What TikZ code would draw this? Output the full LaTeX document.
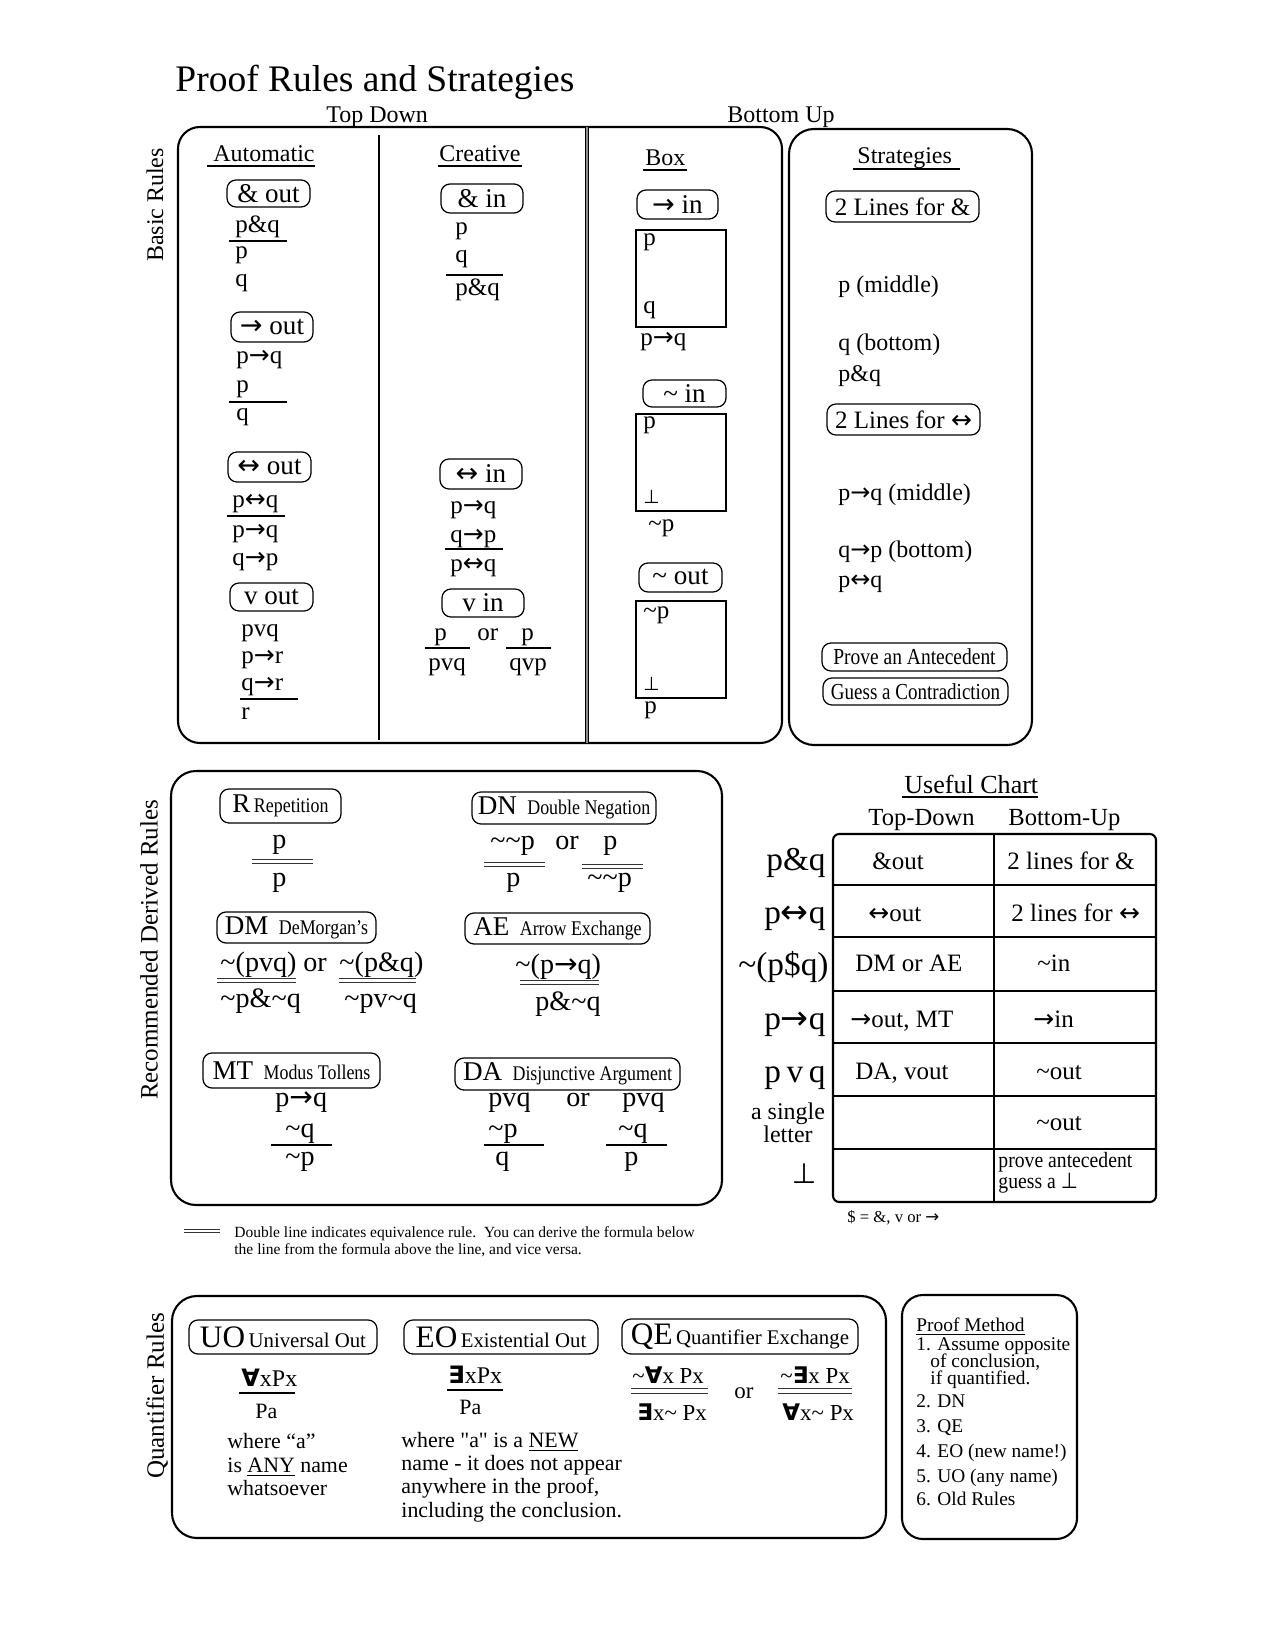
\documentclass[tikz,border=0pt]{standalone}
\usepackage{fontspec}
\setmainfont{Liberation Serif}
\newfontfamily\symf{DejaVu Sans}
\newfontfamily\qf{Liberation Serif}[Ligatures=TeXOff]
\usepackage{graphicx}
\newcommand\fs[1]{\fontsize{#1}{#1}\selectfont}
\newcommand\cnd[2]{\scalebox{#1}[1]{#2}}
\newcommand\pxu{0.48pt}
\newcommand\Bot{{\symf ⊥}}
\newcommand\All{{\symf\bfseries ∀}}
\newcommand\Exi{{\symf\bfseries ∃}}
\newcommand\ra{{\symf →}}
\newcommand\lra{{\symf ↔}}
\newcommand\dq{{\qf "}}
\newcommand\tagbox[6]{\node[tagb, minimum width={(#4-#2)*\pxu}, minimum height={(#5-#3)*\pxu}] (#1) at ({(#2+#4)/2},{(#3+#5)/2}) {#6};}
\tikzset{
  tagb/.style={draw, rounded corners=4.3pt, inner sep=0pt, line width=0.6pt},
  fm/.style={anchor=base west, inner sep=0pt, font=\fs{12}},
  fb/.style={anchor=base west, inner sep=0pt, font=\fs{13.5}},
  hd/.style={anchor=base west, inner sep=0pt, font=\fs{11.5}},
  boxl/.style={line width=1pt},
  rl/.style={line width=0.8pt},
  ul/.style={line width=0.6pt},
  dl/.style={line width=0.45pt, black!80},
  frame/.style={line width=0.9pt},
}
\begin{document}
\begin{tikzpicture}[x=0.48pt,y=-0.48pt]
\useasboundingbox (0,0) rectangle (1275,1650);
% ---------- title ----------
\node[fm, font=\fs{18}] (title) at (175,92) {Proof Rules and Strategies};
\node[hd] (topdown) at (326,123) {Top Down};
\node[hd] (bottomup) at (727,123) {Bottom Up};
% ---------- basic rules frames ----------
\draw[boxl, rounded corners=10.5pt] (178,127) rectangle (782,743);
\draw[boxl] (379,135) -- (379,740);
\draw[line width=0.45pt, double=black!45, double distance=1.1pt] (587,127) -- (587,743);
\draw[boxl, rounded corners=12pt] (789,129) rectangle (1032,745);
\node[rotate=90, font=\fs{11.5}] (basic) at (155,205) {Basic Rules};
% headers
\node[hd] (hauto) at (213,162) {Automatic};
\draw[ul] (207,166) -- (315,166);
\node[hd] (hcre) at (439,162) {Creative};
\draw[ul] (438,166) -- (522,166);
\node[hd] (hbox) at (645,166) {Box};
\draw[ul] (643,170) -- (687,170);
\node[hd] (hstr) at (857,164) {Strategies};
\draw[ul] (853,169) -- (960,169);
% ---------- automatic ----------
\tagbox{andout}{227}{180}{310}{207}{\fs{13}\& out}
\node[fm] (a1) at (235,233) {p\&q};
\draw[rl] (229,241) -- (287,241);
\node[fm] (a2) at (235,259) {p};
\node[fm] (a3) at (235,287) {q};
\tagbox{impout}{231}{312}{313}{342}{\fs{13}\ra\ out}
\node[fm] (b1) at (236,364) {p\ra q};
\node[fm] (b2) at (236,393) {p};
\draw[rl] (229,402) -- (287,402);
\node[fm] (b3) at (236,421) {q};
\tagbox{bicout}{228}{452}{311}{482}{\fs{13}\lra\ out}
\node[fm] (c1) at (232,507) {p\lra q};
\draw[rl] (227,516) -- (285,516);
\node[fm] (c2) at (232,537) {p\ra q};
\node[fm] (c3) at (232,565) {q\ra p};
\tagbox{orout}{230}{583}{313}{611}{\fs{13}v out}
\node[fm] (d1) at (241,636) {pvq};
\node[fm] (d2) at (241,663) {p\ra r};
\node[fm] (d3) at (241,690) {q\ra r};
\draw[rl] (240,699) -- (298,699);
\node[fm] (d4) at (241,719) {r};
% ---------- creative ----------
\tagbox{andin}{441}{184}{523}{213}{\fs{13}\& in}
\node[fm] (e1) at (455,235) {p};
\node[fm] (e2) at (455,263) {q};
\draw[rl] (446,275) -- (503,275);
\node[fm] (e3) at (455,296) {p\&q};
\tagbox{bicin}{440}{459}{522}{489}{\fs{13}\lra\ in}
\node[fm] (g1) at (450,513) {p\ra q};
\node[fm] (g2) at (450,542) {q\ra p};
\draw[rl] (445,549) -- (503,549);
\node[fm] (g3) at (450,571) {p\lra q};
\tagbox{orin}{442}{589}{524}{617}{\fs{13}v in}
\node[fm] (h1) at (434,640) {p};
\node[fm] (h2) at (477,640) {or};
\node[fm] (h3) at (521,640) {p};
\draw[rl] (425,648) -- (470,648);
\draw[rl] (506,648) -- (551,648);
\node[fm] (h4) at (428,670) {pvq};
\node[fm] (h5) at (509,670) {qvp};
% ---------- box ----------
\tagbox{impin}{637}{190}{718}{219}{\fs{13}\ra\ in}
\draw[frame] (636,230) rectangle (726,327);
\node[fm] (i1) at (643,246) {p};
\node[fm] (i2) at (643,314) {q};
\node[fm] (i3) at (640,346) {p\ra q};
\tagbox{negin}{643}{380}{726}{407}{\fs{13}\textasciitilde{} in}
\draw[frame] (636,414) rectangle (726,511);
\node[fm] (j1) at (643,429) {p};
\node[fm, font=\fs{9}] (j2) at (643,503) {\Bot};
\node[fm] (j3) at (648,531) {\textasciitilde p};
\tagbox{negout}{639}{563}{722}{592}{\fs{13}\textasciitilde{} out}
\draw[frame] (636,601) rectangle (726,698);
\node[fm] (k1) at (643,618) {\textasciitilde p};
\node[fm, font=\fs{9}] (k2) at (643,690) {\Bot};
\node[fm] (k3) at (644,713) {p};
% ---------- strategies ----------
\tagbox{twoand}{826}{191}{979}{222}{\fs{12}2 Lines for \&}
\node[fm, font=\fs{11.5}] (s1) at (838,293) {p (middle)};
\node[fm, font=\fs{11.5}] (s2) at (838,351) {q (bottom)};
\node[fm, font=\fs{11.5}] (s3) at (838,382) {p\&q};
\tagbox{twobic}{827}{404}{980}{435}{\fs{12}2 Lines for \lra}
\node[fm, font=\fs{11.5}] (s4) at (838,500) {p\ra q (middle)};
\node[fm, font=\fs{11.5}] (s5) at (838,557) {q\ra p (bottom)};
\node[fm, font=\fs{11.5}] (s6) at (838,587) {p\lra q};
\tagbox{prove}{822}{643}{1007}{671}{\fs{11}\cnd{0.85}{Prove an Antecedent}}
\tagbox{guess}{823}{678}{1008}{705}{\fs{11}\cnd{0.83}{Guess a Contradiction}}
% ---------- recommended derived rules ----------
\draw[boxl, rounded corners=12pt] (171,771) rectangle (722,1205);
\node[rotate=90, font=\fs{12}] (recom) at (149,950) {Recommended Derived Rules};
\tagbox{rep}{220}{789}{341}{823}{{\fs{13}R}\,{\fs{10}\cnd{0.86}{Repetition}}}
\node[fb] (r1) at (272,848) {p};
\draw[dl] (252,859) -- (313,859); \draw[dl] (252,863) -- (313,863);
\node[fb] (r2) at (272,886) {p};
\tagbox{dn}{472}{792}{656}{824}{{\fs{13}DN}\enspace{\fs{10}\cnd{0.86}{Double Negation}}}
\node[fb] (n1) at (490,849) {\textasciitilde\textasciitilde p};
\node[fb] (n2) at (555,849) {or};
\node[fb] (n3) at (603,849) {p};
\draw[dl] (484,862) -- (545,862); \draw[dl] (484,866) -- (545,866);
\draw[dl] (582,864) -- (643,864); \draw[dl] (582,868) -- (643,868);
\node[fb] (n4) at (506,886) {p};
\node[fb] (n5) at (587,886) {\textasciitilde\textasciitilde p};
\tagbox{dm}{217}{912}{376}{943}{{\fs{13}DM}\enspace{\fs{10}\cnd{0.86}{DeMorgan’s}}}
\node[fb] (m1) at (220,971) {\textasciitilde(pvq)};
\node[fb] (m2) at (303,971) {or};
\node[fb] (m3) at (339,971) {\textasciitilde(p\&q)};
\draw[dl] (217,978) -- (296,978); \draw[dl] (217,982) -- (296,982);
\draw[dl] (339,978) -- (416,978); \draw[dl] (339,982) -- (416,982);
\node[fb] (m4) at (220,1007) {\textasciitilde p\&\textasciitilde q};
\node[fb] (m5) at (344,1007) {\textasciitilde pv\textasciitilde q};
\tagbox{ae}{465}{913}{650}{944}{{\fs{13}AE}\enspace{\fs{10}\cnd{0.86}{Arrow Exchange}}}
\node[fb] (x1) at (515,973) {\textasciitilde(p\ra q)};
\draw[dl] (520,980) -- (599,980); \draw[dl] (520,984) -- (599,984);
\node[fb] (x2) at (535,1010) {p\&\textasciitilde q};
\tagbox{mt}{203}{1053}{380}{1088}{{\fs{13}MT}\enspace{\fs{10}\cnd{0.86}{Modus Tollens}}}
\node[fb] (t1) at (275,1106) {p\ra q};
\node[fb] (t2) at (285,1137) {\textasciitilde q};
\draw[rl] (271,1145) -- (332,1145);
\node[fb] (t3) at (285,1165) {\textasciitilde p};
\tagbox{da}{455}{1058}{680}{1090}{{\fs{13}DA}\enspace{\fs{10}\cnd{0.86}{Disjunctive Argument}}}
\node[fb] (u1) at (488,1106) {pvq};
\node[fb] (u2) at (566,1106) {or};
\node[fb] (u3) at (622,1106) {pvq};
\node[fb] (u4) at (488,1137) {\textasciitilde p};
\draw[rl] (484,1145) -- (544,1145);
\node[fb] (u5) at (618,1137) {\textasciitilde q};
\draw[rl] (606,1145) -- (667,1145);
\node[fb] (u6) at (495,1165) {q};
\node[fb] (u7) at (624,1165) {p};
% footnote
\draw[dl] (184,1229) -- (220,1229); \draw[dl] (184,1232) -- (220,1232);
\node[fm, font=\fs{7.45}] (fn1) at (234,1237) {Double line indicates equivalence rule.\ \ You can derive the formula below};
\node[fm, font=\fs{7.45}] (fn2) at (234,1254) {the line from the formula above the line, and vice versa.};
% ---------- useful chart ----------
\node[fm, font=\fs{12.5}] (uc) at (904,793) {Useful Chart};
\draw[ul] (902,797) -- (1038,797);
\node[fm, font=\fs{11.8}] (ctd) at (868,825) {Top-Down};
\node[fm, font=\fs{11.8}] (cbu) at (1008,825) {Bottom-Up};
\draw[line width=1pt, rounded corners=3pt] (833,834) rectangle (1156,1202);
\draw[line width=1pt] (994,834) -- (994,1202);
\foreach \yy in {885,937,991,1043,1096,1149} \draw[line width=1pt] (833,\yy) -- (1156,\yy);
\tikzset{rowl/.style={anchor=base east, inner sep=0pt, font=\fs{16}}, cell/.style={anchor=base west, inner sep=0pt, font=\fs{12}}}
\node[rowl] (l1) at (826,870) {p\&q};
\node[rowl] (l2) at (826,923) {p\lra q};
\node[rowl] (l3) at (829,975) {\textasciitilde(p\$q)};
\node[rowl] (l4) at (826,1029) {p\ra q};
\node[rowl] (l5) at (826,1082) {p\,v\,q};
\node[anchor=base, inner sep=0pt, font=\fs{11.5}] (l6a) at (788,1119) {a single};
\node[anchor=base, inner sep=0pt, font=\fs{11.5}] (l6b) at (788,1142) {letter};
\node[anchor=base, inner sep=0pt, font=\fs{13.5}] (l7) at (804,1183) {\Bot};
\node[cell] (c11) at (872,869) {\&out};
\node[cell] (c12) at (1007,869) {2 lines for \&};
\node[cell] (c21) at (868,921) {\lra out};
\node[cell] (c22) at (1011,921) {2 lines for \lra};
\node[cell] (c31) at (855,971) {DM or AE};
\node[cell] (c32) at (1037,971) {\textasciitilde in};
\node[cell] (c41) at (850,1027) {\ra out, MT};
\node[cell] (c42) at (1033,1027) {\ra in};
\node[cell] (c51) at (855,1079) {DA, vout};
\node[cell] (c52) at (1036,1079) {\textasciitilde out};
\node[cell] (c62) at (1036,1130) {\textasciitilde out};
\node[cell, font=\fs{10.5}] (c72a) at (998,1167) {\cnd{0.9}{prove antecedent}};
\node[cell, font=\fs{10.5}] (c72b) at (998,1188) {\cnd{0.9}{guess a \Bot}};
\node[fm, font=\fs{8}] (dollar) at (847,1222) {\$ = \&, v or \ra};
% ---------- quantifier rules ----------
\draw[boxl, rounded corners=12pt] (172,1296) rectangle (886,1538);
\node[rotate=90, font=\fs{12}] (quant) at (157,1396) {Quantifier Rules};
\tagbox{uo}{189}{1320}{377}{1354}{{\fs{15}UO}\,{\fs{10}Universal Out}}
\node[fm, font=\fs{11.5}] (q1) at (241,1386) {\All xPx};
\draw[rl] (239,1393) -- (295,1393);
\node[fm, font=\fs{10.5}] (q2) at (255,1418) {Pa};
\node[fm, font=\fs{10.5}] (q3) at (227,1448) {where “a”};
\node[fm, font=\fs{10.5}] (q4) at (227,1472) {is \underline{ANY} name};
\node[fm, font=\fs{10.5}] (q5) at (227,1495) {whatsoever};
\tagbox{eo}{404}{1320}{598}{1354}{{\fs{15}EO}\,{\fs{10}Existential Out}}
\node[fm, font=\fs{11.5}] (w1) at (448,1383) {\Exi xPx};
\draw[rl] (447,1390) -- (503,1390);
\node[fm, font=\fs{10.5}] (w2) at (459,1414) {Pa};
\node[fm, font=\fs{10.5}] (w3) at (401,1447) {where \dq a\dq{} is a \underline{NEW}};
\node[fm, font=\fs{10.5}] (w4) at (401,1470) {name - it does not appear};
\node[fm, font=\fs{10.5}] (w5) at (401,1493) {anywhere in the proof,};
\node[fm, font=\fs{10.5}] (w6) at (401,1517) {including the conclusion.};
\tagbox{qe}{622}{1319}{858}{1354}{{\fs{15}QE}\,{\fs{10}Quantifier Exchange}}
\node[fm, font=\fs{11}] (z1) at (632,1383) {\textasciitilde\All x Px};
\draw[dl] (631,1388) -- (708,1388); \draw[dl] (631,1393) -- (708,1393);
\node[fm, font=\fs{11}] (z2) at (637,1420) {\Exi x\textasciitilde{} Px};
\node[fm, font=\fs{11}] (z3) at (734,1398) {or};
\node[fm, font=\fs{11}] (z4) at (780,1383) {\textasciitilde\Exi x Px};
\draw[dl] (778,1388) -- (852,1388); \draw[dl] (778,1393) -- (852,1393);
\node[fm, font=\fs{11}] (z5) at (782,1420) {\All x\textasciitilde{} Px};
% proof method
\draw[boxl, rounded corners=10pt] (902,1295) rectangle (1077,1539);
\tikzset{pm/.style={anchor=base west, inner sep=0pt, font=\fs{9.3}}}
\node[pm] (p0) at (916,1331) {\underline{Proof Method}};
\node[pm] (p1) at (916,1350) {1. Assume opposite};
\node[pm] (p1b) at (930,1367) {of conclusion,};
\node[pm] (p1c) at (930,1384) {if quantified.};
\node[pm] (p2) at (916,1407) {2. DN};
\node[pm] (p3) at (916,1432) {3. QE};
\node[pm] (p4) at (916,1457) {4. EO (new name!)};
\node[pm] (p5) at (916,1482) {5. UO (any name)};
\node[pm] (p6) at (916,1505) {6. Old Rules};
\end{tikzpicture}
\end{document}
